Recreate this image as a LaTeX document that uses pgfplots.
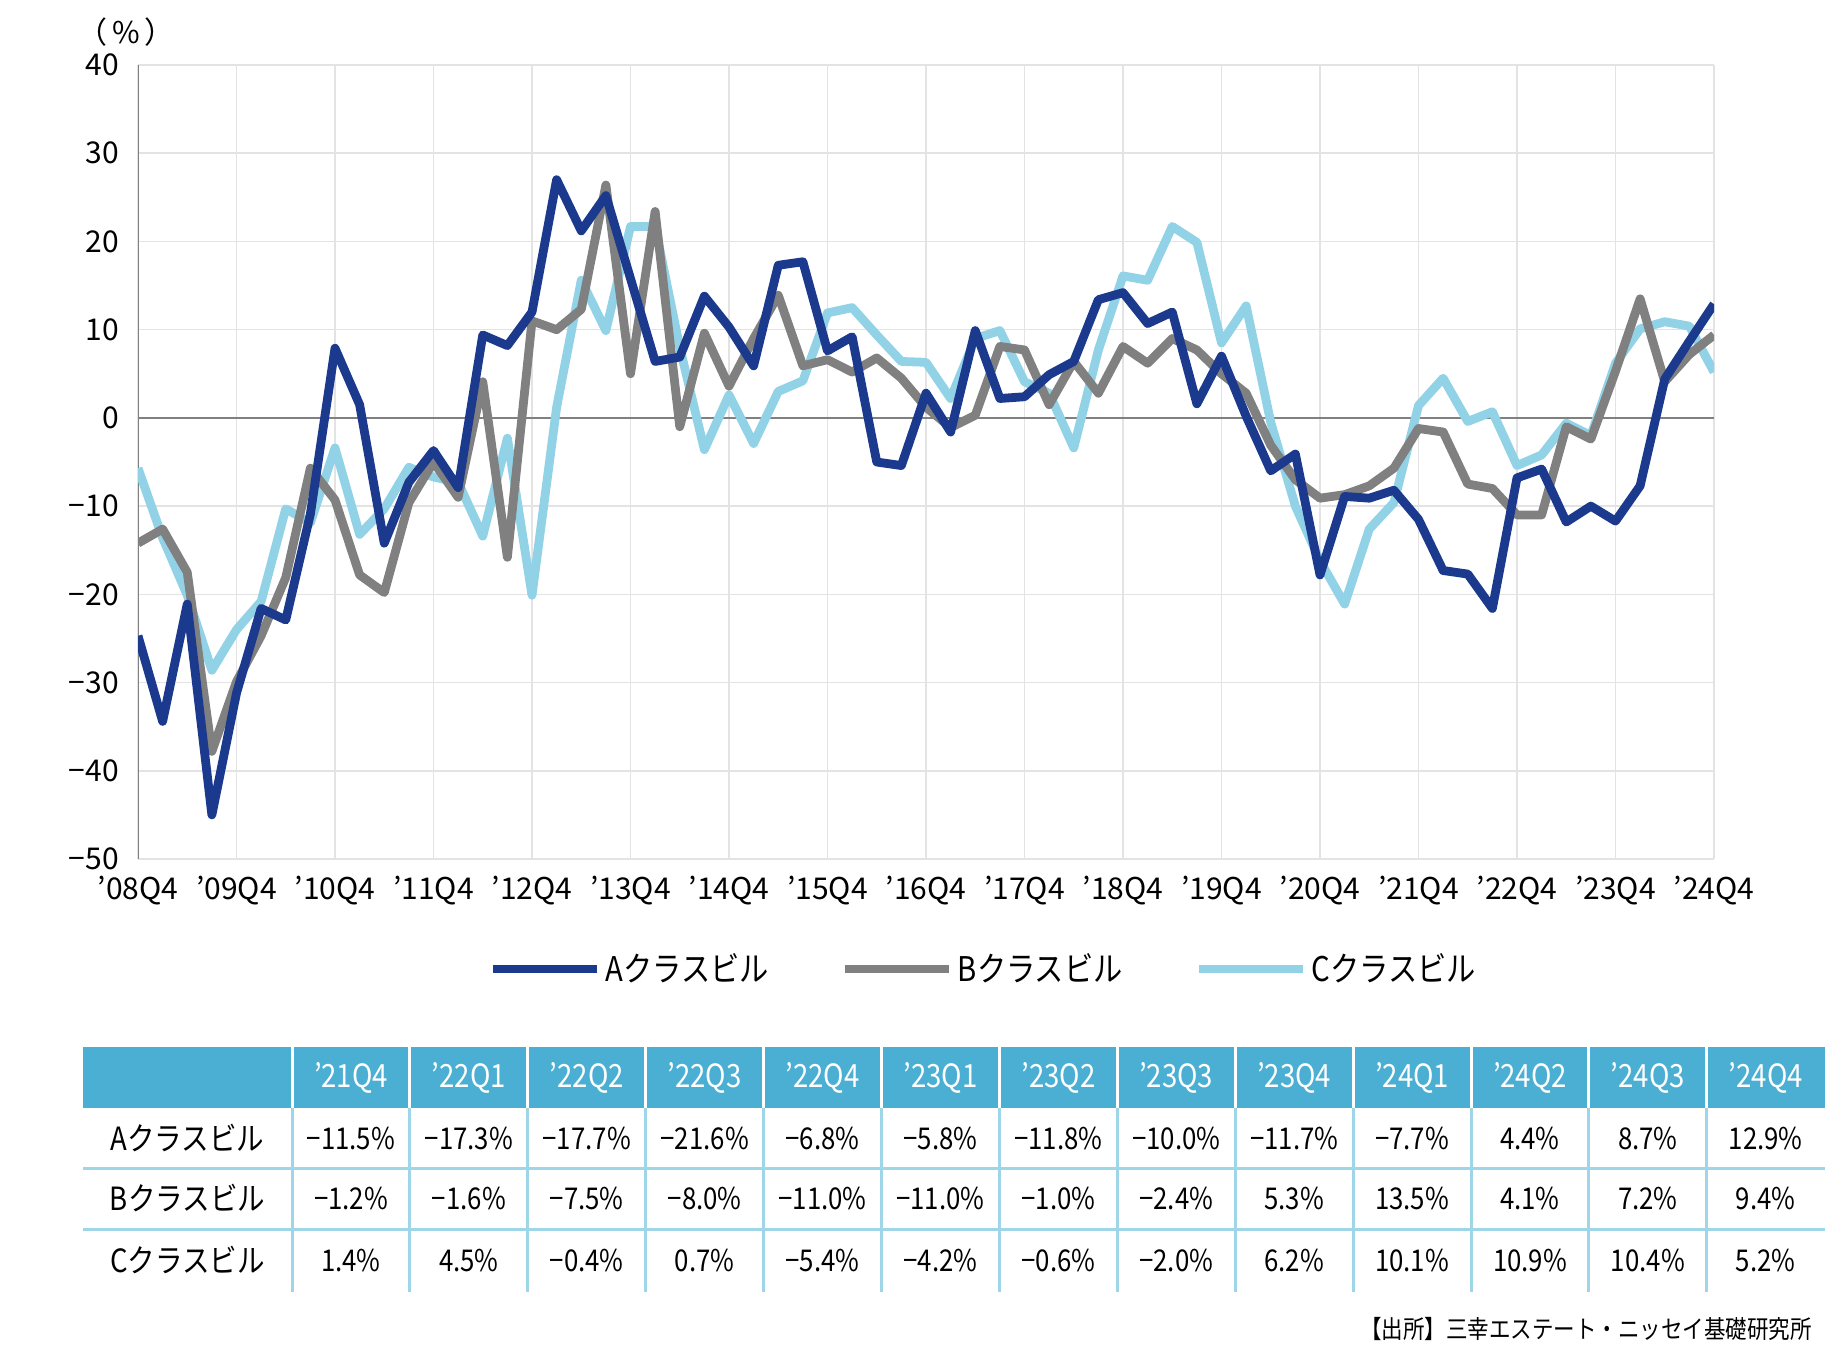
\documentclass[border=0pt]{standalone}
\usepackage{fontspec}
\setmainfont{Noto Sans CJK JP}
\newfontfamily\cond{Noto Sans CJK JP}[FakeStretch=0.86]
\usepackage{pgfplots}
\usepackage{pgfplotstable}
\pgfplotsset{compat=1.18}

\definecolor{acol}{HTML}{1B3A8E}
\definecolor{bcol}{HTML}{808080}
\definecolor{ccol}{HTML}{92D2E6}
\definecolor{hdr}{HTML}{4BAFD3}
\definecolor{sepc}{HTML}{9FD5E8}
\definecolor{gridc}{HTML}{E3E3E3}

% quarter index 0 = '08Q4 ... 64 = '24Q4
\pgfplotstableread{
q A B C
0 -24.7 -14.2 -5.7
1 -34.4 -12.6 -13.6
2 -21.1 -17.5 -20.1
3 -45.0 -37.8 -28.6
4 -31.2 -29.9 -24.0
5 -21.6 -24.7 -20.8
6 -22.9 -18.1 -10.3
7 -10.9 -5.7 -11.9
8 7.9 -9.3 -3.4
9 1.5 -17.8 -13.2
10 -14.2 -19.8 -10.3
11 -7.3 -9.6 -5.6
12 -3.7 -5.0 -6.7
13 -7.9 -9.0 -7.3
14 9.4 4.1 -13.4
15 8.2 -15.8 -2.3
16 12.0 11.0 -20.1
17 27.0 10.0 1.2
18 21.2 12.3 15.6
19 25.2 26.4 9.9
20 15.8 5.0 21.7
21 6.4 23.4 21.7
22 6.9 -1.0 8.0
23 13.8 9.6 -3.6
24 10.3 3.6 2.6
25 5.9 9.0 -2.9
26 17.3 13.9 3.0
27 17.7 5.9 4.2
28 7.6 6.6 11.9
29 9.2 5.2 12.5
30 -5.0 6.8 9.4
31 -5.4 4.5 6.4
32 2.8 1.2 6.3
33 -1.6 -1.1 2.2
34 9.9 0.3 9.0
35 2.2 8.1 9.9
36 2.4 7.7 4.1
37 4.9 1.5 2.8
38 6.4 6.4 -3.4
39 13.4 2.8 7.7
40 14.2 8.1 16.1
41 10.7 6.2 15.6
42 12.0 9.0 21.7
43 1.6 7.7 19.9
44 7.0 5.0 8.5
45 0.2 2.8 12.7
46 -6.0 -3.1 -0.5
47 -4.1 -7.0 -10.0
48 -17.8 -9.1 -16.2
49 -8.9 -8.7 -21.1
50 -9.1 -7.7 -12.6
51 -8.2 -5.7 -9.6
52 -11.5 -1.2 1.4
53 -17.3 -1.6 4.5
54 -17.7 -7.5 -0.4
55 -21.6 -8.0 0.7
56 -6.8 -11.0 -5.4
57 -5.8 -11.0 -4.2
58 -11.8 -1.0 -0.6
59 -10.0 -2.4 -2.0
60 -11.7 5.3 6.2
61 -7.7 13.5 10.1
62 4.4 4.1 10.9
63 8.7 7.2 10.4
64 12.9 9.4 5.2
}\datatab

\begin{document}
\begin{tikzpicture}
\path[use as bounding box] (0,0) rectangle (921.5pt,-675pt);

\node[font=\fontsize{15}{15}\selectfont] at (63pt,-16pt) {（\,\%\,）};

\begin{axis}[
    at={(69pt,-429.5pt)}, anchor=south west,
    scale only axis, width=788pt, height=397pt,
    xmin=0, xmax=64, ymin=-50, ymax=40,
    xtick={0,4,...,64},
    xticklabels={’08Q4,’09Q4,’10Q4,’11Q4,’12Q4,’13Q4,’14Q4,’15Q4,’16Q4,’17Q4,’18Q4,’19Q4,’20Q4,’21Q4,’22Q4,’23Q4,’24Q4},
    ytick={-50,-40,...,40},
    yticklabels={−50,−40,−30,−20,−10,0,10,20,30,40},
    grid=major, grid style={color=gridc, line width=0.75pt},
    major tick length=0pt,
    axis line style={draw=none},
    tick label style={font=\fontsize{15}{15}\selectfont},
    yticklabel style={xshift=-6pt},
    xticklabel style={yshift=-5pt},
    legend columns=3,
    legend style={at={(0.537,-0.1385)}, anchor=center, draw=none,
        font=\cond\fontsize{17}{17}\selectfont,
        /tikz/every even column/.append style={column sep=34pt}},
    legend image code/.code={\draw[#1] (0pt,0pt) -- (52pt,0pt);},
    every axis plot/.append style={line width=4.4pt, line join=round},
]
\draw[bcol, line width=1.2pt] (axis cs:0,-50) -- (axis cs:0,40);
\draw[bcol, line width=0.8pt] (axis cs:0,0) -- (axis cs:64,0);
\addplot[ccol, forget plot] table[x=q, y=C] {\datatab};
\addplot[bcol, forget plot] table[x=q, y=B] {\datatab};
\addplot[acol, forget plot] table[x=q, y=A] {\datatab};
\addlegendimage{acol, line width=4.4pt}
\addlegendentry{Aクラスビル}
\addlegendimage{bcol, line width=4.4pt}
\addlegendentry{Bクラスビル}
\addlegendimage{ccol, line width=4.4pt}
\addlegendentry{Cクラスビル}
\end{axis}

\begin{scope}[x=0.5pt, y=-0.5pt]
\fill[hdr] (83,1047) rectangle (1825,1108);
\foreach \k in {0,...,12} {
  \draw[white, line width=1.5pt] ({292+\k*117.9},1047) -- ({292+\k*117.9},1108);
  \draw[sepc, line width=1.5pt] ({292+\k*117.9},1108) -- ({292+\k*117.9},1292);
}
\draw[sepc, line width=1.5pt] (83,1168) -- (1825,1168);
\draw[sepc, line width=1.5pt] (83,1229) -- (1825,1229);

\foreach \h [count=\i from 0] in {’21Q4,’22Q1,’22Q2,’22Q3,’22Q4,’23Q1,’23Q2,’23Q3,’23Q4,’24Q1,’24Q2,’24Q3,’24Q4}
  \node[text=white, font=\cond\fontsize{16}{16}\selectfont] at ({292+(\i+0.5)*117.9},1077.5) {\h};

\node[font=\cond\fontsize{16}{16}\selectfont] at (187.5,1138) {Aクラスビル};
\node[font=\cond\fontsize{16}{16}\selectfont] at (187.5,1198.5) {Bクラスビル};
\node[font=\cond\fontsize{16}{16}\selectfont] at (187.5,1260.5) {Cクラスビル};

\foreach \v [count=\i from 0] in {−11.5\%,−17.3\%,−17.7\%,−21.6\%,−6.8\%,−5.8\%,−11.8\%,−10.0\%,−11.7\%,−7.7\%,4.4\%,8.7\%,12.9\%}
  \node[font=\cond\fontsize{15}{15}\selectfont] at ({292+(\i+0.5)*117.9},1138) {\v};
\foreach \v [count=\i from 0] in {−1.2\%,−1.6\%,−7.5\%,−8.0\%,−11.0\%,−11.0\%,−1.0\%,−2.4\%,5.3\%,13.5\%,4.1\%,7.2\%,9.4\%}
  \node[font=\cond\fontsize{15}{15}\selectfont] at ({292+(\i+0.5)*117.9},1198.5) {\v};
\foreach \v [count=\i from 0] in {1.4\%,4.5\%,−0.4\%,0.7\%,−5.4\%,−4.2\%,−0.6\%,−2.0\%,6.2\%,10.1\%,10.9\%,10.4\%,5.2\%}
  \node[font=\cond\fontsize{15}{15}\selectfont] at ({292+(\i+0.5)*117.9},1260.5) {\v};

\node[anchor=east, font=\cond\fontsize{12.5}{12.5}\selectfont] at (1819,1329) {【出所】三幸エステート・ニッセイ基礎研究所};
\end{scope}
\end{tikzpicture}
\end{document}
